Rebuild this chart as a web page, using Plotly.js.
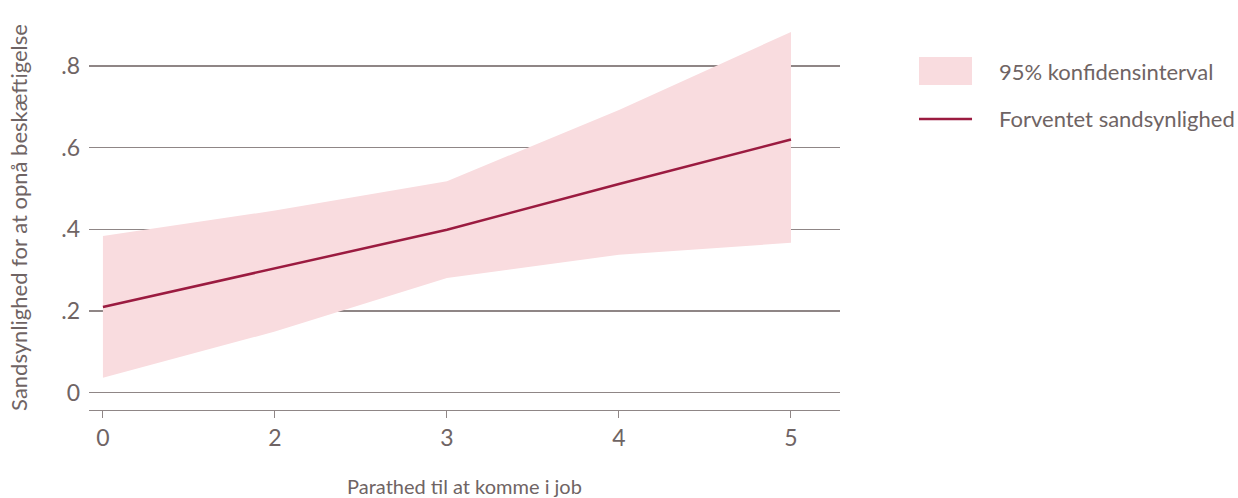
<!DOCTYPE html>
<html>
<head>
<meta charset="utf-8">
<script src="https://cdn.plot.ly/plotly-3.0.1.min.js"></script>
<style>html,body{margin:0;padding:0;background:#fff;}#chart{width:1238px;height:498px;}</style>
</head>
<body>
<div id="chart"></div>
<script>
// Data
const categories = ["0", "2", "3", "4", "5"];
const expected = [0.210, 0.305, 0.399, 0.511, 0.620];
const ciUpper = [0.384, 0.446, 0.518, 0.692, 0.883];
const ciLower = [0.037, 0.150, 0.281, 0.338, 0.367];
const yTickVals = [0, 0.2, 0.4, 0.6, 0.8];
const yTickText = ["0", ".2", ".4", ".6", ".8"];
const legendLabels = ["95% konfidensinterval", "Forventet sandsynlighed"];

const textColor = "#6f6464";
const gridColor = "#8f8686";
const lineColor = "#9b1b40";
const bandColor = "#f9dcdf";
const fontFam = "Lato, 'Open Sans', sans-serif";

const idx = categories.map((c, i) => i);

const traces = [
  {x: idx, y: ciLower, type: "scatter", mode: "lines", line: {width: 0, color: bandColor},
   showlegend: false, hoverinfo: "skip"},
  {x: idx, y: ciUpper, type: "scatter", mode: "lines", line: {width: 0, color: bandColor},
   fill: "tonexty", fillcolor: bandColor, name: legendLabels[0], showlegend: false},
  {x: idx, y: expected, type: "scatter", mode: "lines", line: {width: 2.5, color: lineColor},
   name: legendLabels[1], showlegend: false}
];

const layout = {
  width: 1238, height: 498,
  paper_bgcolor: "#fff", plot_bgcolor: "#fff",
  margin: {l: 89, r: 398, t: 25, b: 88},
  font: {family: fontFam, color: textColor, size: 19},
  xaxis: {
    range: [-0.081, 4.285],
    tickvals: idx, ticktext: categories,
    showgrid: false, zeroline: false,
    showline: true, linecolor: gridColor, linewidth: 1.3,
    ticks: "outside", ticklen: 7, tickcolor: gridColor, tickwidth: 1,
    tickfont: {size: 23, color: textColor},
    title: {text: "Parathed til at komme i job", font: {size: 20, color: textColor}, standoff: 30}
  },
  yaxis: {
    range: [-0.042, 0.9],
    tickvals: yTickVals, ticktext: yTickText,
    showgrid: true, gridcolor: gridColor, gridwidth: 1.3,
    zeroline: false, showline: false, ticks: "",
    tickfont: {size: 23, color: textColor},
    ticklabelstandoff: 8,
    title: {text: "Sandsynlighed for at opnå beskæftigelse", font: {size: 22, color: textColor}, standoff: 27}
  },
  showlegend: false,
  shapes: [
    {type: "rect", xref: "paper", yref: "paper", x0: 1.1052, x1: 1.1758, y0: 0.8442, y1: 0.9169,
     fillcolor: bandColor, line: {width: 0}},
    {type: "line", xref: "paper", yref: "paper", x0: 1.1052, x1: 1.1758, y0: 0.7558, y1: 0.7558,
     line: {color: lineColor, width: 2.5}}
  ],
  annotations: [
    {xref: "paper", yref: "paper", x: 1.209, y: 0.8805, xanchor: "left", yanchor: "middle",
     text: legendLabels[0], showarrow: false, font: {size: 22, color: textColor}},
    {xref: "paper", yref: "paper", x: 1.209, y: 0.7584, xanchor: "left", yanchor: "middle",
     text: legendLabels[1], showarrow: false, font: {size: 22, color: textColor}}
  ],
  hovermode: false
};

Plotly.newPlot("chart", traces, layout, {displayModeBar: false, staticPlot: true});
</script>
</body>
</html>
